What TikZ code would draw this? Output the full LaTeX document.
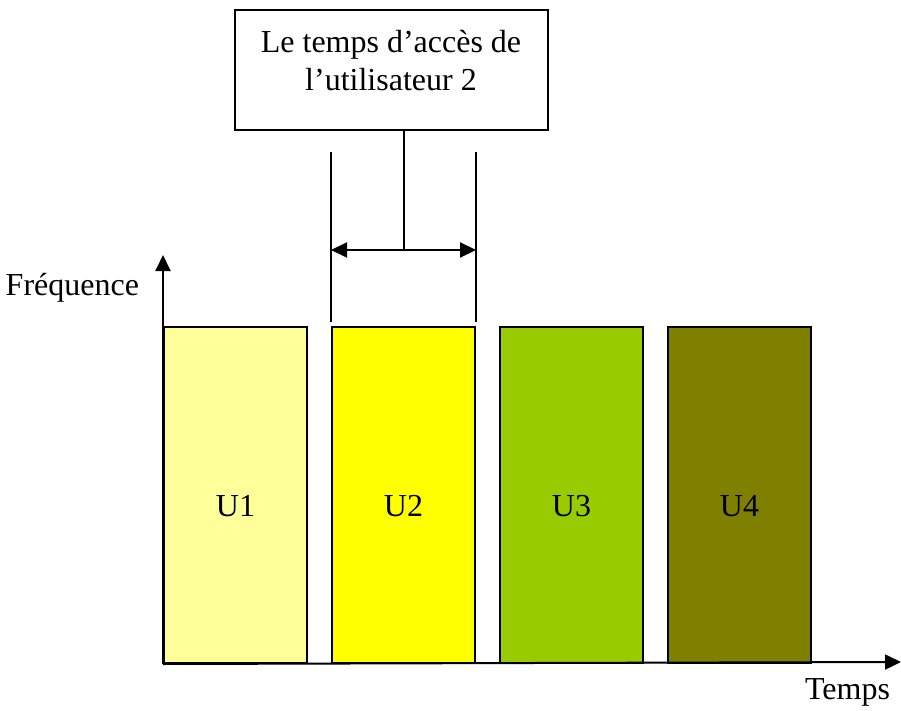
\documentclass[tikz,border=0pt]{standalone}
\usepackage{fontspec}
\setmainfont{Liberation Serif}
\usepackage{xcolor}
\usetikzlibrary{arrows.meta, positioning, calc}

\definecolor{userA}{HTML}{FFFF99}
\definecolor{userB}{HTML}{FFFF00}
\definecolor{userC}{HTML}{99CC00}
\definecolor{userD}{HTML}{808000}

\begin{document}
\begin{tikzpicture}[
            x=1pt, y=1pt,
            line width=2pt,
            tip/.style={-{Triangle[length=16pt, width=15pt]}},
            bar/.style={rectangle, draw, anchor=north west, minimum width=143pt, minimum height=336pt, inner sep=0pt, text height=42pt, text depth=0pt, font=\fontsize{32}{37}\selectfont},
            label/.style={font=\fontsize{32}{37}\selectfont}
        ]
        \useasboundingbox (0,0) rectangle (901,-711);

        % Users
        \node[bar, fill=userA] (u1) at (163,-326) {U1};
        \node[bar, fill=userB] (u2) at (331,-326) {U2};
        \node[bar, fill=userC] (u3) at (499,-326) {U3};
        \node[bar, fill=userD] (u4) at (667,-326) {U4};

        % Axes
        \coordinate (origin) at (u1.south west);
        \coordinate (yend) at (163,-255);
        \coordinate (xend) at (901,-662);
        \draw[tip] (origin) -- (yend);
        \draw[tip] (origin) -- (xend);
        \node[label, anchor=base east, inner sep=0pt] (freq) at (140,-295) {Fréquence};
        \node[label, anchor=base east, inner sep=0pt] (temps) at (891,-699) {Temps};

        % Access time
        \node[rectangle, draw, minimum width=313pt, minimum height=120pt, align=center, font=\fontsize{32}{38}\selectfont, text depth=19pt] (box) at (391,-70) {Le temps d'accès de\\l'utilisateur 2};
        \coordinate (left) at ($(u2.north west)+(0,174)$);
        \coordinate (right) at ($(u2.north east)+(0,174)$);
        \draw ($(u2.north west)+(0,4)$) -- (left);
        \draw ($(u2.north east)+(0,4)$) -- (right);
        \draw[{Triangle[length=16pt, width=15pt]}-{Triangle[length=16pt, width=15pt]}] ($(u2.north west)+(0,76)$) coordinate (al) -- ($(u2.north east)+(0,76)$) coordinate (ar);
        \coordinate (mid) at ($(al)!0.5!(ar)$);
        \draw (mid |- box.south) -- (mid);

    \end{tikzpicture}
\end{document}
